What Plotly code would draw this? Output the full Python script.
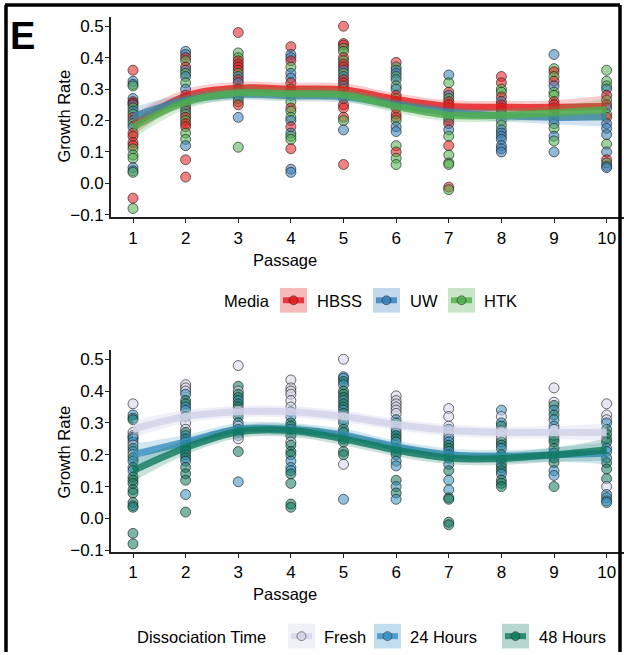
import plotly.graph_objects as go

# ---------------- data ----------------
passages = [1, 2, 3, 4, 5, 6, 7, 8, 9, 10]
tick_vals_y = [-0.1, 0.0, 0.1, 0.2, 0.3, 0.4, 0.5]

# growth-rate observations: (value, media, dissociation time) per passage
obs_p1 = [(0.36, "HBSS", "Fresh"), (0.325, "UW", "24 Hours"), (0.315, "UW", "24 Hours"),
          (0.31, "HTK", "48 Hours"), (0.27, "UW", "Fresh"), (0.26, "HBSS", "Fresh"),
          (0.255, "HBSS", "24 Hours"), (0.25, "UW", "24 Hours"), (0.24, "HTK", "24 Hours"),
          (0.23, "UW", "Fresh"), (0.22, "HTK", "48 Hours"), (0.21, "HBSS", "24 Hours"),
          (0.20, "UW", "Fresh"), (0.19, "HTK", "48 Hours"), (0.18, "UW", "24 Hours"),
          (0.16, "HBSS", "48 Hours"), (0.15, "HBSS", "24 Hours"), (0.13, "HBSS", "48 Hours"),
          (0.12, "HBSS", "48 Hours"), (0.11, "HTK", "48 Hours"), (0.09, "HTK", "48 Hours"),
          (0.08, "HTK", "48 Hours"), (0.05, "UW", "48 Hours"), (0.04, "UW", "24 Hours"),
          (0.035, "HTK", "48 Hours"), (-0.047, "HBSS", "48 Hours"), (-0.08, "HTK", "48 Hours")]
obs_p2 = [(0.42, "UW", "Fresh"), (0.41, "UW", "Fresh"), (0.40, "HBSS", "Fresh"),
          (0.39, "HTK", "24 Hours"), (0.37, "HBSS", "48 Hours"), (0.36, "UW", "48 Hours"),
          (0.35, "HTK", "24 Hours"), (0.34, "UW", "24 Hours"), (0.32, "HTK", "48 Hours"),
          (0.30, "UW", "Fresh"), (0.28, "HBSS", "Fresh"), (0.27, "HBSS", "48 Hours"),
          (0.26, "UW", "24 Hours"), (0.25, "HTK", "48 Hours"), (0.24, "HBSS", "24 Hours"),
          (0.23, "UW", "48 Hours"), (0.22, "HTK", "48 Hours"), (0.21, "HBSS", "24 Hours"),
          (0.20, "HTK", "48 Hours"), (0.19, "HBSS", "48 Hours"), (0.18, "HBSS", "24 Hours"),
          (0.16, "HTK", "48 Hours"), (0.14, "HTK", "48 Hours"), (0.12, "UW", "48 Hours"),
          (0.075, "HBSS", "24 Hours"), (0.02, "HBSS", "48 Hours")]
obs_p3 = [(0.48, "HBSS", "Fresh"), (0.415, "HTK", "48 Hours"), (0.40, "HTK", "Fresh"),
          (0.39, "HBSS", "48 Hours"), (0.38, "HBSS", "48 Hours"), (0.37, "HBSS", "24 Hours"),
          (0.36, "HBSS", "48 Hours"), (0.35, "HTK", "48 Hours"), (0.34, "UW", "Fresh"),
          (0.33, "HBSS", "24 Hours"), (0.32, "UW", "48 Hours"), (0.30, "HTK", "24 Hours"),
          (0.29, "UW", "Fresh"), (0.28, "HBSS", "48 Hours"), (0.27, "UW", "24 Hours"),
          (0.26, "HTK", "48 Hours"), (0.25, "HBSS", "Fresh"), (0.21, "UW", "48 Hours"),
          (0.115, "HTK", "24 Hours")]
obs_p4 = [(0.435, "HBSS", "Fresh"), (0.41, "UW", "Fresh"), (0.40, "UW", "Fresh"),
          (0.39, "HBSS", "Fresh"), (0.37, "HTK", "Fresh"), (0.35, "UW", "Fresh"),
          (0.335, "UW", "24 Hours"), (0.32, "HBSS", "24 Hours"), (0.30, "HTK", "48 Hours"),
          (0.29, "HBSS", "48 Hours"), (0.28, "UW", "24 Hours"), (0.26, "HTK", "48 Hours"),
          (0.24, "HBSS", "Fresh"), (0.23, "HTK", "48 Hours"), (0.21, "HTK", "48 Hours"),
          (0.20, "UW", "48 Hours"), (0.18, "HBSS", "24 Hours"), (0.16, "UW", "24 Hours"),
          (0.15, "HTK", "24 Hours"), (0.14, "HTK", "48 Hours"), (0.11, "HBSS", "48 Hours"),
          (0.045, "UW", "48 Hours"), (0.035, "UW", "48 Hours")]
obs_p5 = [(0.50, "HBSS", "Fresh"), (0.445, "HBSS", "24 Hours"), (0.44, "HBSS", "24 Hours"),
          (0.43, "HTK", "48 Hours"), (0.42, "HTK", "24 Hours"), (0.40, "HBSS", "48 Hours"),
          (0.39, "HTK", "48 Hours"), (0.38, "HBSS", "48 Hours"), (0.37, "HBSS", "24 Hours"),
          (0.36, "UW", "48 Hours"), (0.35, "HTK", "48 Hours"), (0.34, "UW", "24 Hours"),
          (0.33, "HBSS", "48 Hours"), (0.32, "HBSS", "Fresh"), (0.31, "UW", "48 Hours"),
          (0.30, "HTK", "24 Hours"), (0.28, "HBSS", "48 Hours"), (0.27, "UW", "48 Hours"),
          (0.25, "HBSS", "24 Hours"), (0.24, "HBSS", "48 Hours"), (0.21, "HBSS", "48 Hours"),
          (0.20, "HTK", "48 Hours"), (0.17, "UW", "Fresh"), (0.06, "HBSS", "24 Hours")]
obs_p6 = [(0.385, "HBSS", "Fresh"), (0.37, "HTK", "Fresh"), (0.36, "UW", "Fresh"),
          (0.35, "UW", "Fresh"), (0.34, "HTK", "Fresh"), (0.33, "UW", "Fresh"),
          (0.31, "HTK", "24 Hours"), (0.30, "UW", "48 Hours"), (0.28, "HBSS", "48 Hours"),
          (0.27, "HTK", "24 Hours"), (0.26, "HBSS", "48 Hours"), (0.25, "UW", "48 Hours"),
          (0.24, "HBSS", "24 Hours"), (0.22, "HBSS", "48 Hours"), (0.21, "HBSS", "24 Hours"),
          (0.20, "HTK", "48 Hours"), (0.18, "UW", "24 Hours"), (0.165, "UW", "24 Hours"),
          (0.12, "HTK", "48 Hours"), (0.10, "HBSS", "24 Hours"), (0.08, "HTK", "48 Hours"),
          (0.06, "HTK", "24 Hours")]
obs_p7 = [(0.345, "UW", "Fresh"), (0.32, "HTK", "Fresh"), (0.29, "HBSS", "Fresh"),
          (0.28, "UW", "24 Hours"), (0.27, "HTK", "48 Hours"), (0.26, "HBSS", "Fresh"),
          (0.25, "HBSS", "24 Hours"), (0.24, "HTK", "24 Hours"), (0.23, "HBSS", "48 Hours"),
          (0.22, "UW", "48 Hours"), (0.21, "HTK", "24 Hours"), (0.20, "UW", "48 Hours"),
          (0.19, "HBSS", "24 Hours"), (0.17, "UW", "24 Hours"), (0.15, "HTK", "48 Hours"),
          (0.12, "HBSS", "24 Hours"), (0.09, "HTK", "24 Hours"), (0.065, "HTK", "48 Hours"),
          (0.06, "HTK", "48 Hours"), (-0.012, "HBSS", "48 Hours"), (-0.02, "HTK", "48 Hours")]
obs_p8 = [(0.34, "HBSS", "24 Hours"), (0.32, "HBSS", "Fresh"), (0.30, "HTK", "24 Hours"),
          (0.29, "HTK", "48 Hours"), (0.275, "HBSS", "Fresh"), (0.26, "UW", "Fresh"),
          (0.25, "HBSS", "Fresh"), (0.24, "HBSS", "48 Hours"), (0.23, "UW", "48 Hours"),
          (0.22, "HTK", "24 Hours"), (0.20, "UW", "48 Hours"), (0.185, "HTK", "48 Hours"),
          (0.17, "UW", "24 Hours"), (0.16, "UW", "48 Hours"), (0.15, "UW", "48 Hours"),
          (0.14, "UW", "24 Hours"), (0.12, "UW", "48 Hours"), (0.11, "UW", "48 Hours"),
          (0.10, "UW", "48 Hours")]
obs_p9 = [(0.41, "UW", "Fresh"), (0.365, "HTK", "Fresh"), (0.355, "HBSS", "48 Hours"),
          (0.34, "HTK", "24 Hours"), (0.325, "HBSS", "48 Hours"), (0.31, "UW", "24 Hours"),
          (0.29, "HTK", "24 Hours"), (0.28, "HTK", "Fresh"), (0.26, "HBSS", "48 Hours"),
          (0.25, "HBSS", "48 Hours"), (0.24, "UW", "48 Hours"), (0.22, "HBSS", "48 Hours"),
          (0.205, "HTK", "24 Hours"), (0.19, "UW", "48 Hours"), (0.175, "HTK", "48 Hours"),
          (0.15, "UW", "24 Hours"), (0.135, "HTK", "24 Hours"), (0.10, "UW", "48 Hours")]
obs_p10 = [(0.36, "HTK", "Fresh"), (0.325, "HTK", "Fresh"), (0.31, "HTK", "Fresh"),
           (0.30, "UW", "24 Hours"), (0.28, "HBSS", "48 Hours"), (0.265, "HTK", "48 Hours"),
           (0.25, "HBSS", "48 Hours"), (0.24, "UW", "48 Hours"), (0.22, "HTK", "24 Hours"),
           (0.21, "HBSS", "24 Hours"), (0.19, "UW", "24 Hours"), (0.175, "UW", "48 Hours"),
           (0.155, "UW", "48 Hours"), (0.125, "HTK", "48 Hours"), (0.10, "UW", "Fresh"),
           (0.075, "HBSS", "24 Hours"), (0.065, "HTK", "24 Hours"), (0.055, "UW", "24 Hours"),
           (0.05, "UW", "24 Hours")]
observations = [obs_p1, obs_p2, obs_p3, obs_p4, obs_p5, obs_p6, obs_p7, obs_p8, obs_p9, obs_p10]

# loess fits (value and half-width of the confidence band) at each passage
media_levels = ["HBSS", "UW", "HTK"]
fit_hbss = [0.186, 0.277, 0.303, 0.300, 0.298, 0.267, 0.245, 0.242, 0.242, 0.245]
fit_uw = [0.212, 0.264, 0.283, 0.279, 0.276, 0.250, 0.226, 0.215, 0.210, 0.212]
fit_htk = [0.178, 0.258, 0.288, 0.285, 0.282, 0.245, 0.217, 0.217, 0.225, 0.234]
se_hbss = [0.035, 0.022, 0.020, 0.020, 0.020, 0.020, 0.020, 0.020, 0.022, 0.035]
se_uw = [0.030, 0.020, 0.018, 0.018, 0.018, 0.018, 0.018, 0.018, 0.022, 0.032]
se_htk = [0.035, 0.022, 0.020, 0.020, 0.020, 0.020, 0.020, 0.020, 0.022, 0.035]

time_levels = ["Fresh", "24 Hours", "48 Hours"]
fit_fresh = [0.280, 0.320, 0.335, 0.335, 0.320, 0.295, 0.277, 0.270, 0.270, 0.270]
fit_24h = [0.200, 0.240, 0.280, 0.280, 0.262, 0.225, 0.200, 0.195, 0.200, 0.205]
fit_48h = [0.150, 0.222, 0.272, 0.276, 0.250, 0.215, 0.190, 0.188, 0.200, 0.215]
se_fresh = [0.028, 0.020, 0.018, 0.018, 0.018, 0.018, 0.018, 0.018, 0.020, 0.028]
se_24h = [0.035, 0.022, 0.020, 0.020, 0.020, 0.020, 0.020, 0.020, 0.022, 0.035]
se_48h = [0.035, 0.022, 0.020, 0.020, 0.020, 0.020, 0.020, 0.020, 0.022, 0.035]

# ---------------- styling ----------------
W, H = 624, 655
FONT = "Liberation Sans, Arial, sans-serif"
rgb = {"HBSS": (228, 26, 28), "UW": (55, 126, 184), "HTK": (77, 175, 74),
       "Fresh": (212, 211, 234), "24 Hours": (54, 144, 192), "48 Hours": (14, 120, 92)}


def rgba(name, a):
    r, g, b = rgb[name]
    return f"rgba({r},{g},{b},{a})"


def px_x(p):
    return p / W


def px_y(p):
    return 1 - p / H


fig = go.Figure()

panels = [
    dict(xa="x", ya="y", key=1, levels=media_levels,
         fits=[fit_hbss, fit_uw, fit_htk], ses=[se_hbss, se_uw, se_htk]),
    dict(xa="x2", ya="y2", key=2, levels=time_levels,
         fits=[fit_fresh, fit_24h, fit_48h], ses=[se_fresh, se_24h, se_48h]),
]

for pan in panels:
    xs, ys, fills = [], [], []
    for p, obs in zip(passages, observations):
        for v, media, tm in obs:
            grp = media if pan["key"] == 1 else tm
            xs.append(p)
            ys.append(v)
            fills.append(rgba(grp, 0.55))
    fig.add_trace(go.Scatter(
        x=xs, y=ys, mode="markers", xaxis=pan["xa"], yaxis=pan["ya"],
        marker=dict(size=10, color=fills, line=dict(color="rgba(30,30,30,0.65)", width=1)),
        showlegend=False, hoverinfo="skip"))

    for lev, fit, se in zip(pan["levels"], pan["fits"], pan["ses"]):
        lo = [f - s for f, s in zip(fit, se)]
        hi = [f + s for f, s in zip(fit, se)]
        band_a = 0.35 if lev == "Fresh" else 0.22
        fig.add_trace(go.Scatter(x=passages, y=lo, mode="lines", xaxis=pan["xa"], yaxis=pan["ya"],
                                 line=dict(width=0, shape="spline", color=rgba(lev, 0)),
                                 showlegend=False, hoverinfo="skip"))
        fig.add_trace(go.Scatter(x=passages, y=hi, mode="lines", xaxis=pan["xa"], yaxis=pan["ya"],
                                 line=dict(width=0, shape="spline", color=rgba(lev, 0)),
                                 fill="tonexty", fillcolor=rgba(lev, band_a),
                                 showlegend=False, hoverinfo="skip"))
        line_a = 0.85 if lev == "Fresh" else 0.8
        fig.add_trace(go.Scatter(x=passages, y=fit, mode="lines", xaxis=pan["xa"], yaxis=pan["ya"],
                                 line=dict(width=7, shape="spline", color=rgba(lev, line_a)),
                                 showlegend=False, hoverinfo="skip"))

axis_common = dict(showline=True, linecolor="#222", linewidth=1.6, ticks="outside",
                   ticklen=4, tickwidth=1.2, tickcolor="#222", showgrid=False, zeroline=False,
                   tickfont=dict(family=FONT, size=17, color="black"))

xdom = [px_x(111), 1.0]
fig.update_layout(
    width=W, height=H, margin=dict(l=0, r=0, t=0, b=0),
    paper_bgcolor="white", plot_bgcolor="white", showlegend=False,
    xaxis=dict(domain=xdom, range=[0.582, 10.33], tickvals=passages, anchor="y", **axis_common),
    yaxis=dict(domain=[px_y(220), px_y(17)], range=[-0.108, 0.53], tickvals=tick_vals_y,
               tickformat=".1f", anchor="x", ticklabelstandoff=-2, **axis_common),
    xaxis2=dict(domain=xdom, range=[0.582, 10.33], tickvals=passages, anchor="y2", **axis_common),
    yaxis2=dict(domain=[px_y(559), px_y(354)], range=[-0.106, 0.53], tickvals=tick_vals_y,
                tickformat=".1f", anchor="x2", ticklabelstandoff=-2, **axis_common),
)

annotations = []
shapes = []


def text(x, y, s, size=16.5, xanchor="center", angle=0):
    annotations.append(dict(x=px_x(x), y=px_y(y), xref="paper", yref="paper", text=s,
                            showarrow=False, xanchor=xanchor, yanchor="middle", textangle=angle,
                            font=dict(family=FONT, size=size, color="black")))


# axis titles
text(64, 118, "Growth Rate", angle=-90)
text(64, 458, "Growth Rate", angle=-90)
text(285, 263, "Passage")
text(285, 601, "Passage")

# panel letter
annotations.append(dict(x=px_x(8), y=px_y(36), xref="paper", yref="paper", text="<b>E</b>",
                        showarrow=False, xanchor="left", yanchor="middle",
                        font=dict(family=FONT, size=38, color="black")))


def legend(title, title_x, cy, items):
    text(title_x, cy + 1, title, xanchor="left")
    for lev, bx, tx in items:
        shapes.append(dict(type="rect", xref="paper", yref="paper",
                           x0=px_x(bx), x1=px_x(bx + 27), y0=px_y(cy + 12.5), y1=px_y(cy - 12.5),
                           fillcolor=rgba(lev, 0.3 if lev != "Fresh" else 0.35), line=dict(width=0)))
        shapes.append(dict(type="line", xref="paper", yref="paper",
                           x0=px_x(bx + 3), x1=px_x(bx + 24), y0=px_y(cy), y1=px_y(cy),
                           line=dict(color=rgba(lev, 0.8), width=6)))
        shapes.append(dict(type="circle", xref="paper", yref="paper",
                           x0=px_x(bx + 9), x1=px_x(bx + 18), y0=px_y(cy + 4.5), y1=px_y(cy - 4.5),
                           fillcolor=rgba(lev, 0.8), line=dict(color="rgba(30,30,30,0.5)", width=1)))
        text(tx, cy + 1, lev, xanchor="left")


legend("Media", 222, 304, [("HBSS", 280, 315), ("UW", 373, 408), ("HTK", 448, 482)])
legend("Dissociation Time", 135, 644, [("Fresh", 288, 322), ("24 Hours", 374, 408),
                                       ("48 Hours", 502, 537)])

# frame around the figure
for x0, y0, x1, y1 in [(5, 5, 620, 5), (6, 5, 6, 660), (620, 5, 620, 660)]:
    shapes.append(dict(type="line", xref="paper", yref="paper", x0=px_x(x0), y0=px_y(y0),
                       x1=px_x(x1), y1=px_y(y1), line=dict(color="black", width=3.5)))

fig.update_layout(annotations=annotations, shapes=shapes)
fig.write_html("out.html")
